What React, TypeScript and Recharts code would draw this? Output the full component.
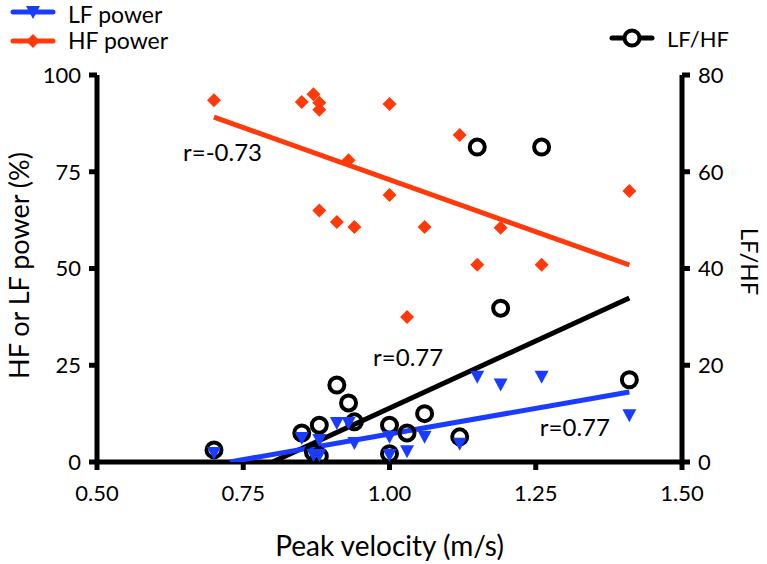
import React from 'react';
import { ComposedChart, Scatter, XAxis, YAxis, ReferenceDot, Label } from 'recharts';

const BLUE = '#1a3cff';
const RED = '#ff3a0a';
const BLACK = '#000000';
const FONT = 'Lato, "Open Sans", sans-serif';

// axis ticks
const velocityTicks = [0.5, 0.75, 1.0, 1.25, 1.5];
const powerTicks = [0, 25, 50, 75, 100];
const ratioTicks = [0, 20, 40, 60, 80];

// HF power (%) vs peak velocity
const hfVelocity = [0.7, 0.85, 0.87, 0.88, 0.88, 1.0, 1.12, 0.93, 1.0, 0.88, 0.91, 0.94, 1.06, 1.41, 1.19, 1.15, 1.26, 1.03];
const hfPower = [93.5, 93.0, 95.0, 92.8, 91.0, 92.5, 84.5, 78.0, 69.0, 65.0, 62.0, 60.7, 60.7, 70.0, 60.5, 51.0, 51.0, 37.5];

// LF power (%) vs peak velocity
const lfVelocity = [0.7, 0.85, 0.87, 0.88, 0.88, 0.91, 0.93, 0.94, 1.0, 1.0, 1.03, 1.06, 1.12, 1.15, 1.19, 1.26, 1.41];
const lfPower = [2.3, 6.2, 1.8, 1.8, 5.7, 10.1, 10.1, 4.9, 6.5, 1.8, 2.8, 6.5, 4.7, 22.0, 20.0, 22.0, 12.1];

// LF/HF ratio vs peak velocity (right axis)
const ratioVelocity = [0.7, 0.85, 0.87, 0.88, 0.88, 0.91, 0.93, 0.94, 1.0, 1.0, 1.03, 1.06, 1.12, 1.15, 1.19, 1.26, 1.41];
const ratioValues = [2.5, 6.0, 2.0, 1.2, 7.6, 15.9, 12.2, 8.3, 7.6, 1.7, 6.0, 10.0, 5.2, 65.1, 31.8, 65.1, 17.0];

// regression line end points
const hfFitX = [0.7, 1.41];
const hfFitY = [89.1, 50.9];
const lfFitX = [0.727, 1.41];
const lfFitY = [0, 18.1];
const ratioFitX = [0.8, 1.41];
const ratioFitY = [0, 33.9];

// correlation labels (left axis units)
const annotations = [
  { text: 'r=-0.73', x: 0.647, y: 80.1 },
  { text: 'r=0.77', x: 0.972, y: 27.1 },
  { text: 'r=0.77', x: 1.257, y: 9.0 },
];

const toPoints = (xs: number[], ys: number[]) => xs.map((x, i) => ({ x, y: ys[i] }));

const hfData = toPoints(hfVelocity, hfPower);
const lfData = toPoints(lfVelocity, lfPower);
const ratioData = toPoints(ratioVelocity, ratioValues);

const TriangleDown = (p: any) => {
  const { cx, cy } = p;
  if (cx == null || cy == null) return <g />;
  return <path d={`M${cx - 7},${cy - 6}L${cx + 7},${cy - 6}L${cx},${cy + 7}Z`} fill={BLUE} />;
};

const Diamond = (p: any) => {
  const { cx, cy } = p;
  if (cx == null || cy == null) return <g />;
  return <path d={`M${cx},${cy - 7}L${cx + 7},${cy}L${cx},${cy + 7}L${cx - 7},${cy}Z`} fill={RED} />;
};

const Ring = (p: any) => {
  const { cx, cy } = p;
  if (cx == null || cy == null) return <g />;
  return <circle cx={cx} cy={cy} r={7.5} fill="none" stroke={BLACK} strokeWidth={4} />;
};

const noMarker = () => <g />;

const xTitle = (props: any) => {
  const vb = props.viewBox || { x: 97, y: 462, width: 585, height: 102 };
  return (
    <text x={vb.x + vb.width / 2} y={vb.y + 94} textAnchor="middle" fontFamily={FONT} fontSize={28} fill={BLACK}>
      Peak velocity (m/s)
    </text>
  );
};

const leftTitle = (props: any) => {
  const vb = props.viewBox || { x: 0, y: 75, width: 97, height: 387 };
  const cy = vb.y + vb.height / 2 - 3;
  return (
    <text transform={`translate(${vb.x + 29}, ${cy}) rotate(-90)`} textAnchor="middle" fontFamily={FONT} fontSize={27} fill={BLACK}>
      HF or LF power (%)
    </text>
  );
};

const rightTitle = (props: any) => {
  const vb = props.viewBox || { x: 682, y: 75, width: 85, height: 387 };
  const cy = vb.y + vb.height / 2 - 7;
  return (
    <text transform={`translate(${vb.x + 59}, ${cy}) rotate(90)`} textAnchor="middle" fontFamily={FONT} fontSize={24} fill={BLACK}>
      LF/HF
    </text>
  );
};

const axisLine = { stroke: BLACK, strokeWidth: 5 };
const tickLine = { stroke: BLACK, strokeWidth: 5 };
const tickStyle = { fill: BLACK, fontSize: 22, fontFamily: FONT };

const legendLeft = [
  { label: 'LF power', color: BLUE, marker: 'triangle' },
  { label: 'HF power', color: RED, marker: 'diamond' },
];
const legendRight = [{ label: 'LF/HF', color: BLACK, marker: 'ring' }];

function LegendMarker({ kind, x, y, color }: { kind: string; x: number; y: number; color: string }) {
  if (kind === 'triangle') return <path d={`M${x - 7},${y - 6}L${x + 7},${y - 6}L${x},${y + 7}Z`} fill={color} />;
  if (kind === 'diamond') return <path d={`M${x},${y - 7}L${x + 7},${y}L${x},${y + 7}L${x - 7},${y}Z`} fill={color} />;
  return <circle cx={x} cy={y} r={7.5} fill="#fff" stroke={color} strokeWidth={4} />;
}

function Legends() {
  return (
    <svg width={767} height={70} style={{ position: 'absolute', left: 0, top: 0 }}>
      {legendLeft.map((item, i) => {
        const y = 12 + i * 29;
        return (
          <g key={item.label}>
            <line x1={13} x2={53} y1={y} y2={y} stroke={item.color} strokeWidth={5} strokeLinecap="round" />
            <LegendMarker kind={item.marker} x={33} y={y} color={item.color} />
            <text x={68} y={y + (i === 0 ? 11 : 8)} fontFamily={FONT} fontSize={23} fill={BLACK}>
              {item.label}
            </text>
          </g>
        );
      })}
      {legendRight.map((item) => (
        <g key={item.label}>
          <line x1={612} x2={652} y1={38} y2={38} stroke={item.color} strokeWidth={5} strokeLinecap="round" />
          <LegendMarker kind={item.marker} x={632} y={38} color={item.color} />
          <text x={667} y={38} dominantBaseline="central" fontFamily={FONT} fontSize={22} fill={BLACK}>
            {item.label}
          </text>
        </g>
      ))}
    </svg>
  );
}

export default function App() {
  return (
    <div style={{ position: 'absolute', left: 0, top: 0, width: 767, height: 564, background: '#fff' }}>
      <ComposedChart width={767} height={564} margin={{ top: 75, right: 0, bottom: 0, left: 0 }}>
        <XAxis
          type="number"
          dataKey="x"
          domain={[0.5, 1.5]}
          ticks={velocityTicks}
          interval={0}
          allowDataOverflow
          height={102}
          tickFormatter={(v) => Number(v).toFixed(2)}
          axisLine={axisLine}
          tickLine={tickLine}
          tickSize={8}
          tickMargin={15}
          tick={tickStyle}
        >
          <Label content={xTitle} />
        </XAxis>
        <YAxis
          yAxisId="left"
          dataKey="y"
          type="number"
          domain={[0, 100]}
          ticks={powerTicks}
          interval={0}
          allowDataOverflow
          width={97}
          axisLine={axisLine}
          tickLine={tickLine}
          tickSize={8}
          tickMargin={8}
          tick={tickStyle}
        >
          <Label content={leftTitle} />
        </YAxis>
        <YAxis
          yAxisId="right"
          orientation="right"
          dataKey="y"
          type="number"
          domain={[0, 80]}
          ticks={ratioTicks}
          interval={0}
          allowDataOverflow
          width={85}
          axisLine={axisLine}
          tickLine={tickLine}
          tickSize={8}
          tickMargin={8}
          tick={tickStyle}
        >
          <Label content={rightTitle} />
        </YAxis>

        <Scatter
          data={toPoints(hfFitX, hfFitY)}
          yAxisId="left"
          line={{ stroke: RED, strokeWidth: 5 }}
          shape={noMarker}
          isAnimationActive={false}
        />
        <Scatter
          data={toPoints(ratioFitX, ratioFitY)}
          yAxisId="right"
          line={{ stroke: BLACK, strokeWidth: 5 }}
          shape={noMarker}
          isAnimationActive={false}
        />
        <Scatter
          data={toPoints(lfFitX, lfFitY)}
          yAxisId="left"
          line={{ stroke: BLUE, strokeWidth: 5 }}
          shape={noMarker}
          isAnimationActive={false}
        />

        <Scatter name="LF/HF" data={ratioData} yAxisId="right" shape={Ring} isAnimationActive={false} />
        <Scatter name="LF power" data={lfData} yAxisId="left" shape={TriangleDown} isAnimationActive={false} />
        <Scatter name="HF power" data={hfData} yAxisId="left" shape={Diamond} isAnimationActive={false} />

        {annotations.map((a, i) => (
          <ReferenceDot
            key={i}
            x={a.x}
            y={a.y}
            yAxisId="left"
            r={0}
            fill="none"
            stroke="none"
            label={{ value: a.text, position: 'right', offset: 0, fill: BLACK, fontSize: 24, fontFamily: FONT }}
          />
        ))}
      </ComposedChart>
      <Legends />
    </div>
  );
}
